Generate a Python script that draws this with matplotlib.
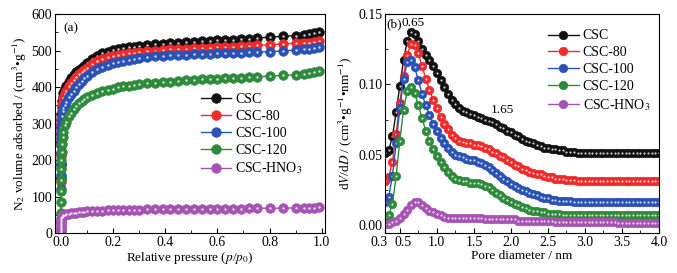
import matplotlib
matplotlib.use("Agg")
import matplotlib.pyplot as plt
import matplotlib.transforms as mtransforms
from matplotlib.ticker import MultipleLocator

plt.rcParams['font.family'] = ['Liberation Serif', 'DejaVu Serif']
plt.rcParams['mathtext.fontset'] = 'stix'
plt.rcParams['font.size'] = 10

# (a) N2 isotherms
p_rel = [0.0001, 0.0002, 0.0003, 0.0005, 0.0007, 0.001, 0.0015, 0.002, 0.003, 0.005,
         0.007, 0.01, 0.015, 0.02, 0.03, 0.04, 0.05, 0.06, 0.07, 0.08,
         0.09, 0.1, 0.12, 0.14, 0.16, 0.18, 0.2, 0.22, 0.24, 0.26,
         0.28, 0.3, 0.33, 0.36, 0.39, 0.42, 0.45, 0.48, 0.51, 0.54,
         0.57, 0.6, 0.63, 0.66, 0.69, 0.72, 0.75, 0.8, 0.85, 0.9,
         0.93, 0.95, 0.97, 0.99]
v_csc = [150, 190, 220, 250, 270, 290, 310, 325, 345, 362,
         372, 383, 395, 403, 414, 424, 432, 440, 447, 453,
         459, 465, 476, 485, 492, 497, 501, 504, 507, 509,
         511, 513, 515, 517, 519, 520, 522, 523, 524, 526,
         527, 528, 529, 530, 532, 533, 534, 537, 539, 541,
         543, 545, 547, 552]
v_csc80 = [140, 180, 210, 240, 262, 282, 300, 315, 335, 350,
           360, 370, 382, 390, 402, 412, 420, 428, 435, 441,
           447, 452, 462, 470, 476, 481, 485, 488, 490, 492,
           494, 496, 498, 500, 501, 503, 504, 505, 506, 507,
           508, 509, 510, 511, 512, 513, 514, 516, 518, 520,
           521, 522, 524, 527]
v_csc100 = [120, 160, 190, 220, 240, 258, 275, 290, 305, 322,
            333, 342, 352, 360, 372, 382, 390, 399, 408, 416,
            424, 430, 440, 449, 455, 460, 465, 469, 472, 475,
            478, 480, 482, 484, 486, 487, 488, 489, 490, 491,
            491, 492, 493, 494, 494, 495, 496, 497, 499, 501,
            503, 505, 507, 510]
v_csc120 = [10, 30, 55, 85, 115, 145, 175, 200, 222, 245,
            262, 278, 295, 305, 320, 330, 340, 348, 355, 362,
            367, 372, 378, 384, 388, 392, 396, 399, 402, 404,
            406, 408, 410, 412, 414, 415, 417, 418, 420, 421,
            422, 423, 424, 425, 426, 427, 428, 430, 432, 434,
            436, 438, 440, 445]
v_hno3 = [3, 8, 14, 20, 26, 31, 36, 40, 43, 45,
          47, 49, 50, 51, 53, 54, 55, 56, 57, 58,
          58, 59, 60, 61, 61, 62, 62, 63, 63, 64,
          64, 64, 65, 65, 65, 66, 66, 66, 66, 67,
          67, 67, 67, 67, 67, 68, 68, 68, 68, 69,
          69, 69, 69, 70]

# (b) pore size distribution
d_pore = [0.30, 0.35, 0.40, 0.45, 0.50, 0.55, 0.60, 0.65, 0.70, 0.75,
          0.80, 0.85, 0.90, 0.95, 1.00, 1.05, 1.10, 1.15, 1.20, 1.25,
          1.30, 1.35, 1.40, 1.45, 1.50, 1.55, 1.60, 1.65, 1.70, 1.75,
          1.80, 1.85, 1.90, 1.95, 2.00, 2.05, 2.10, 2.15, 2.20, 2.25,
          2.30, 2.35, 2.40, 2.45, 2.50, 2.55, 2.60, 2.65, 2.70, 2.75,
          2.80, 2.85, 2.90, 2.95, 3.00, 3.05, 3.10, 3.15, 3.20, 3.25,
          3.30, 3.35, 3.40, 3.45, 3.50, 3.55, 3.60, 3.65, 3.70, 3.75,
          3.80, 3.85, 3.90, 3.95, 4.00]
psd_csc = [.051, .053, .063, .080, .099, .117, .131, .137, .136, .131,
           .125, .121, .117, .113, .108, .103, .098, .093, .089, .086,
           .083, .081, .080, .079, .078, .077, .076, .075, .074, .073,
           .072, .070, .069, .067, .066, .064, .063, .061, .060, .059,
           .058, .057, .056, .055, .055, .054, .054, .053, .053, .052,
           .052, .052, .051, .051, .051, .051, .051, .051, .051, .051,
           .051, .051, .051, .051, .051, .051, .051, .051, .051, .051,
           .051, .051, .051, .051, .051]
psd_csc80 = [.031, .034, .045, .065, .087, .106, .121, .129, .128, .122,
             .113, .104, .096, .089, .083, .077, .072, .068, .064, .062,
             .060, .059, .058, .058, .057, .057, .056, .055, .054, .052,
             .051, .049, .048, .046, .045, .043, .042, .040, .039, .038,
             .037, .036, .036, .035, .034, .034, .033, .033, .033, .032,
             .032, .032, .031, .031, .031, .031, .031, .031, .031, .031,
             .031, .031, .031, .031, .031, .031, .031, .031, .031, .031,
             .031, .031, .031, .031, .031]
psd_csc100 = [.016, .020, .035, .058, .083, .104, .116, .117, .112, .103,
              .093, .085, .078, .072, .067, .062, .058, .055, .052, .050,
              .049, .048, .047, .046, .046, .045, .044, .043, .041, .039,
              .037, .035, .033, .031, .029, .028, .026, .025, .024, .023,
              .022, .021, .020, .019, .019, .018, .018, .017, .017, .017,
              .017, .016, .016, .016, .016, .016, .016, .016, .016, .016,
              .016, .016, .016, .016, .016, .016, .016, .016, .016, .016,
              .016, .016, .016, .016, .016]
psd_csc120 = [.006, .007, .015, .035, .060, .082, .095, .098, .094, .085,
              .076, .067, .060, .054, .049, .045, .041, .038, .035, .033,
              .032, .031, .031, .030, .030, .030, .029, .028, .027, .025,
              .023, .021, .019, .018, .016, .015, .014, .013, .012, .011,
              .010, .010, .009, .009, .008, .008, .008, .008, .007, .007,
              .007, .007, .007, .007, .007, .007, .007, .007, .007, .007,
              .007, .007, .007, .007, .007, .007, .007, .007, .007, .007,
              .007, .007, .007, .007, .007]
psd_hno3 = [.001, .001, .002, .003, .005, .008, .011, .014, .016, .016,
            .014, .012, .010, .009, .008, .007, .006, .005, .005, .005,
            .005, .005, .005, .005, .005, .005, .005, .004, .004, .004,
            .004, .004, .004, .004, .004, .004, .003, .003, .003, .003,
            .003, .003, .003, .003, .003, .003, .002, .002, .002, .002,
            .002, .002, .002, .002, .002, .002, .002, .002, .002, .002,
            .002, .002, .002, .0015, .0015, .0015, .0015, .0015, .0015, .0015,
            .0015, .0015, .0015, .0015, .0015]

labels = ['CSC', 'CSC-80', 'CSC-100', 'CSC-120', 'CSC-HNO$_3$']
colors = ['#111111', '#ee2a2a', '#2a52b4', '#2e8a3c', '#a653b4']


def sphere_plot(ax, x, y, color, label, ms):
    # coloured ball + tiny white highlight, like the origin-style markers
    ax.plot(x, y, '-o', color=color, ms=ms, mec=color, mew=0.4, lw=1.0, label=label)
    ax.plot(x, y, 'o', color='white', ms=ms * 0.25, mew=0, alpha=0.8)


fig = plt.figure(figsize=(6.77, 2.73), dpi=100)
ax1 = fig.add_axes([0.0812, 0.1465, 0.3988, 0.802])
ax2 = fig.add_axes([0.5687, 0.1465, 0.4047, 0.802])

for ys, c, lab in zip([v_csc, v_csc80, v_csc100, v_csc120, v_hno3], colors, labels):
    sphere_plot(ax1, p_rel, ys, c, lab, 7)

ax1.set_xlim(-0.022, 1.012)
ax1.set_ylim(0, 600)
ax1.xaxis.set_major_locator(MultipleLocator(0.2))
ax1.xaxis.set_minor_locator(MultipleLocator(0.1))
ax1.yaxis.set_major_locator(MultipleLocator(100))
ax1.yaxis.set_minor_locator(MultipleLocator(50))
ax1.xaxis.set_major_formatter(plt.FuncFormatter(lambda v, pos: f'{v:.1f}'))
ax1.set_xlabel('Relative pressure ($p$/$p_0$)', fontsize=9.5, labelpad=1)
ax1.set_ylabel('N$_2$ volume adsorbed / (cm$^3$\u2022g$^{-1}$)', fontsize=9.5, labelpad=2)
ax1.text(0.06, 0.935, '(a)', transform=ax1.transAxes, fontsize=9.5, ha='center', va='center')
ax1.legend(loc='upper left', bbox_to_anchor=(0.54, 0.64), frameon=False, fontsize=10,
           handlelength=2.2, handletextpad=0.3, labelspacing=0.28, borderpad=0, borderaxespad=0)

for ys, c, lab in zip([psd_csc, psd_csc80, psd_csc100, psd_csc120, psd_hno3], colors, labels):
    sphere_plot(ax2, d_pore, ys, c, lab, 6.2)

ax2.set_xlim(0.3, 4.0)
ax2.set_ylim(-0.0057, 0.15)
ax2.set_xticks([0.3, 0.5, 1.0, 1.5, 2.0, 2.5, 3.0, 3.5, 4.0])
ax2.xaxis.set_minor_locator(MultipleLocator(0.25))
ax2.yaxis.set_major_locator(MultipleLocator(0.05))
ax2.yaxis.set_minor_locator(MultipleLocator(0.025))
ax2.xaxis.set_major_formatter(plt.FuncFormatter(lambda v, pos: f'{v:.1f}'))
ax2.yaxis.set_major_formatter(plt.FuncFormatter(lambda v, pos: f'{v:.2f}'))
ax2.set_xlabel('Pore diameter / nm', fontsize=9.5, labelpad=1)
ax2.set_ylabel('d$V$/d$D$ / (cm$^3$\u2022g$^{-1}$\u2022nm$^{-1}$)', fontsize=9.5, labelpad=2)
ax2.text(0.42, 0.143, '(b)', fontsize=9.5, ha='center', va='center')
ax2.text(0.68, 0.1435, '0.65', fontsize=9.5, ha='center', va='center')
ax2.text(1.88, 0.082, '1.65', fontsize=9.5, ha='center', va='center')
ax2.legend(loc='upper left', bbox_to_anchor=(0.595, 0.93), frameon=False, fontsize=10,
           handlelength=2.2, handletextpad=0.3, labelspacing=0.28, borderpad=0, borderaxespad=0)

for ax in (ax1, ax2):
    ax.tick_params(which='both', direction='in', labelsize=10, pad=2)
    ax.tick_params(which='major', length=3.5)
    ax.tick_params(which='minor', length=2)
    for s in ax.spines.values():
        s.set_linewidth(0.8)

# 0.3 and 0.5 sit close together: nudge them apart like the original
fig.canvas.draw()
xt = ax2.get_xticklabels()
xt[0].set_horizontalalignment('right')
xt[0].set_transform(xt[0].get_transform() + mtransforms.ScaledTranslation(2 / 72, 0, fig.dpi_scale_trans))
xt[1].set_transform(xt[1].get_transform() + mtransforms.ScaledTranslation(2.5 / 72, 0, fig.dpi_scale_trans))

fig.savefig('out.png', dpi=100)
